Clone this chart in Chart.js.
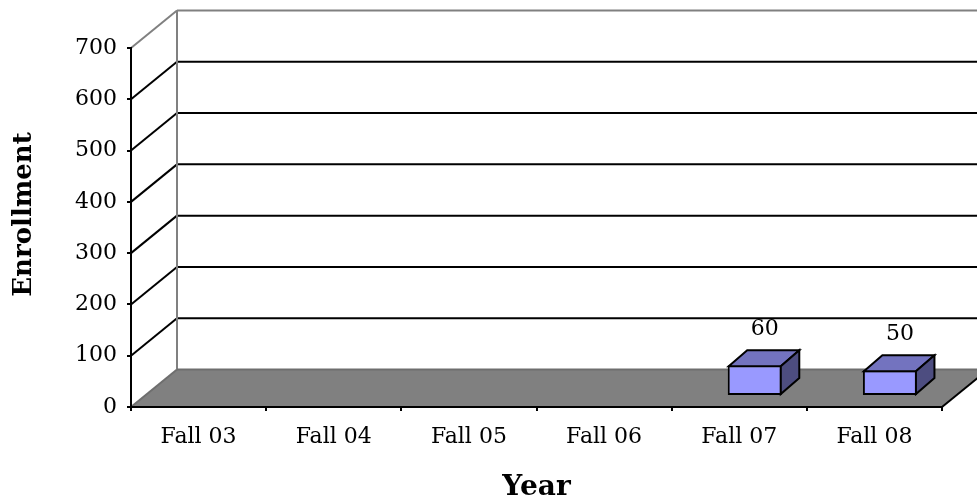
<!DOCTYPE html>
<html>
<head>
<meta charset="utf-8">
<style>
  body { margin: 0; background: #fff; }
  canvas { display: block; }
</style>
<script src="https://cdn.jsdelivr.net/npm/chart.js@4"></script>
</head>
<body>
<canvas id="enrollment" width="977" height="500"></canvas>
<script>
const years = ['Fall 03', 'Fall 04', 'Fall 05', 'Fall 06', 'Fall 07', 'Fall 08'];
const enrollment = [null, null, null, null, 60, 50];
const yTicks = [0, 100, 200, 300, 400, 500, 600, 700];

const fontFamily = '"DejaVu Serif", "Liberation Serif", serif';

// depth of the fake 3D box, and of the bars standing in it
const wallDx = 46, wallDy = -37.5;
const barShiftX = 15.5, barShiftY = -11;
const barDx = 18.5, barDy = -16;

function line(ctx, x1, y1, x2, y2, color, width) {
    ctx.strokeStyle = color;
    ctx.lineWidth = width;
    ctx.beginPath();
    ctx.moveTo(x1, y1);
    ctx.lineTo(x2, y2);
    ctx.stroke();
}

function face(ctx, points, color) {
    ctx.fillStyle = color;
    ctx.strokeStyle = '#000';
    ctx.lineWidth = 2;
    ctx.lineJoin = 'miter';
    ctx.beginPath();
    points.forEach((p, i) => i ? ctx.lineTo(p[0], p[1]) : ctx.moveTo(p[0], p[1]));
    ctx.closePath();
    ctx.fill();
    ctx.stroke();
}

const box3d = {
    id: 'box3d',
    beforeDraw(chart) {
        const ctx = chart.ctx;
        const area = chart.chartArea;
        const y = chart.scales.y;
        const y0 = y.getPixelForValue(0);
        const topVal = yTicks[yTicks.length - 1];

        ctx.save();
        // floor
        ctx.fillStyle = '#808080';
        ctx.beginPath();
        ctx.moveTo(area.left, y0);
        ctx.lineTo(area.right, y0);
        ctx.lineTo(area.right + wallDx, y0 + wallDy);
        ctx.lineTo(area.left + wallDx, y0 + wallDy);
        ctx.closePath();
        ctx.fill();

        // grid lines on side wall and back wall
        yTicks.forEach(v => {
            const py = y.getPixelForValue(v);
            if (v === 0 || v === topVal) return;
            line(ctx, area.left, py, area.left + wallDx, py + wallDy, '#000', 2);
            line(ctx, area.left + wallDx, py + wallDy, area.right + wallDx, py + wallDy, '#000', 2);
        });

        // wall edges
        const yTop = y.getPixelForValue(topVal);
        line(ctx, area.left, yTop, area.left + wallDx, yTop + wallDy, '#808080', 2);
        line(ctx, area.left + wallDx, yTop + wallDy, area.right + wallDx, yTop + wallDy, '#808080', 2);
        line(ctx, area.left + wallDx, yTop + wallDy, area.left + wallDx, y0 + wallDy, '#808080', 2);
        line(ctx, area.left, y0, area.left + wallDx, y0 + wallDy, '#6e6e6e', 2);
        line(ctx, area.left + wallDx, y0 + wallDy, area.right + wallDx, y0 + wallDy, '#6e6e6e', 2);
        line(ctx, area.right, y0, area.right + wallDx, y0 + wallDy, '#000', 2);
        ctx.restore();

        // y title sits above the middle of the axis, so it is not the scale's own title
        ctx.save();
        ctx.translate(24, 214.5);
        ctx.rotate(-Math.PI / 2);
        ctx.fillStyle = '#000';
        ctx.font = 'bold 26px ' + fontFamily;
        ctx.textAlign = 'center';
        ctx.textBaseline = 'middle';
        ctx.fillText('Enrollment', 0, 0);
        ctx.restore();
    },
    beforeDatasetDraw(chart) {
        chart.ctx.save();
        chart.ctx.translate(barShiftX, barShiftY);
    },
    afterDatasetDraw(chart, args) {
        const ctx = chart.ctx;
        const meta = chart.getDatasetMeta(args.index);
        meta.data.forEach((bar, i) => {
            if (enrollment[i] === null) return;
            const l = bar.x - bar.width / 2 + 1;
            const r = bar.x + bar.width / 2 - 1;
            const t = bar.y + 1;
            const b = bar.base - 1;
            face(ctx, [[l, t], [l + barDx, t + barDy], [r + barDx, t + barDy], [r, t]], '#7373BF');
            face(ctx, [[r, t], [r + barDx, t + barDy], [r + barDx, b + barDy], [r, b]], '#4D4D80');
            ctx.fillStyle = '#000';
            ctx.font = '22px ' + fontFamily;
            ctx.textAlign = 'center';
            ctx.textBaseline = 'middle';
            ctx.fillText(String(enrollment[i]), bar.x + 10, t + barDy - 21);
        });
        ctx.restore();
    }
};

new Chart(document.querySelector('#enrollment'), {
    type: 'bar',
    data: {
        labels: years,
        datasets: [
            {
                label: 'Enrollment',
                data: enrollment,
                backgroundColor: '#9999FF',
                borderColor: '#000',
                borderWidth: 2,
                borderSkipped: false,
                barPercentage: 0.4,
                categoryPercentage: 1,
                clip: false
            }
        ]
    },
    options: {
        responsive: false,
        animation: false,
        layout: {
            padding: { left: 0, top: 48, right: 35, bottom: 0 }
        },
        plugins: {
            legend: { display: false },
            tooltip: { enabled: false }
        },
        scales: {
            x: {
                grid: { drawOnChartArea: false, color: '#000', tickLength: 4, lineWidth: 2 },
                border: { color: '#000', width: 2 },
                ticks: {
                    color: '#000',
                    padding: 13,
                    maxRotation: 0,
                    autoSkip: false,
                    font: { family: fontFamily, size: 22 }
                },
                title: {
                    display: true,
                    text: 'Year',
                    color: '#000',
                    font: { family: fontFamily, size: 28, weight: 'bold' },
                    padding: { top: 0, bottom: -5 }
                },
                afterFit(scale) { scale.height = 93; }
            },
            y: {
                min: 0,
                max: 700,
                afterBuildTicks(scale) { scale.ticks = yTicks.map(v => ({ value: v })); },
                grid: { drawOnChartArea: false, color: '#000', tickLength: 4, lineWidth: 2 },
                border: { color: '#000', width: 2 },
                ticks: {
                    color: '#000',
                    padding: 10,
                    font: { family: fontFamily, size: 22 }
                },
                afterFit(scale) { scale.width = 131; }
            }
        }
    },
    plugins: [box3d]
});
</script>
</body>
</html>
